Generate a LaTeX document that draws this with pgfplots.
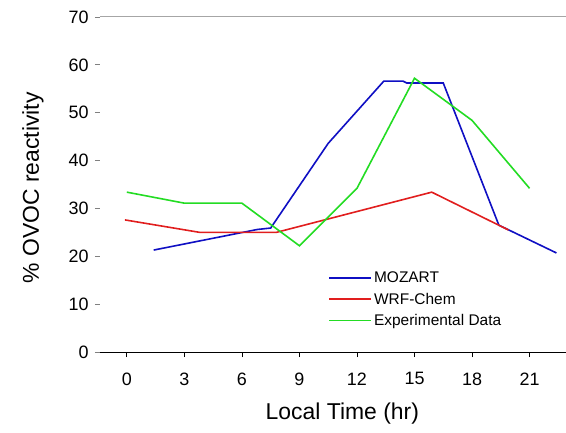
\documentclass[border=0pt]{standalone}
\usepackage{pgfplots}
\pgfplotsset{compat=1.18}
\usepackage{fontspec}
\setmainfont{Liberation Sans}
\definecolor{mblue}{RGB}{15,15,195}
\definecolor{mred}{RGB}{225,30,30}
\definecolor{mgreen}{RGB}{35,220,35}
\begin{document}
\begin{tikzpicture}
\begin{axis}[
  scale only axis, width=466bp, height=335bp,
  xmin=-1.4, xmax=22.9, ymin=0, ymax=70,
  axis x line*=bottom, axis y line*=left,
  y axis line style={draw=none},
  x axis line style={black, line width=1bp, -},
  xtick={0,3,...,21}, ytick={0,10,...,70},
  tick align=outside, major tick length=5bp,
  xtick style={black, line width=0.8bp},
  ytick style={gray, line width=0.8bp},
  /pgf/number format/assume math mode=true,
  ticklabel style={font=\fontsize{18}{20}\selectfont},
  xticklabel style={yshift=-12bp},
  yticklabel style={xshift=-3bp},
  xlabel={Local Time (hr)}, ylabel={\% OVOC reactivity},
  label style={font=\fontsize{23}{26}\selectfont},
  xlabel style={at={(axis description cs:0.52,-0.183)}, anchor=center},
  ylabel style={at={(axis description cs:-0.1438,0.49)}, anchor=center},
  legend style={at={(rel axis cs:0.49,0.245)}, anchor=north west, draw=none, fill=none,
    font=\fontsize{15.5}{17}\selectfont, row sep=4.5bp, inner sep=0pt,
    /tikz/every even column/.append style={column sep=8bp}},
  legend cell align=left,
  legend image code/.code={\draw[#1, line width=1.6bp] (0bp,0bp) -- (42bp,0bp);},
]
\coordinate (O) at (rel axis cs:0,0);
\addplot[mblue, line width=1.6bp] coordinates {(1.4,21.3) (6.8,25.6) (7.5,25.9) (10.5,43.6) (13.4,56.6) (14.4,56.6) (14.6,56.2) (16.5,56.2) (19.4,26.5) (22.4,20.7)};
\addlegendentry{MOZART}
\addplot[mred, line width=1.6bp] coordinates {(-0.1,27.6) (3.8,25.0) (7.8,25.0) (15.9,33.4) (19.9,25.5)};
\addlegendentry{WRF-Chem}
\addplot[mgreen, line width=1.6bp] coordinates {(0,33.4) (3,31.1) (6,31.1) (9,22.2) (12,34.2) (15,57.2) (18,48.4) (21,34.2)};
\addlegendentry{Experimental Data}
\draw[gray!70, line width=1bp] (rel axis cs:0,1) -- (rel axis cs:1,1);
\end{axis}
\pgfresetboundingbox
\path (O) ++(-100bp,-81bp) rectangle ++(566bp,433bp);
\end{tikzpicture}
\end{document}
